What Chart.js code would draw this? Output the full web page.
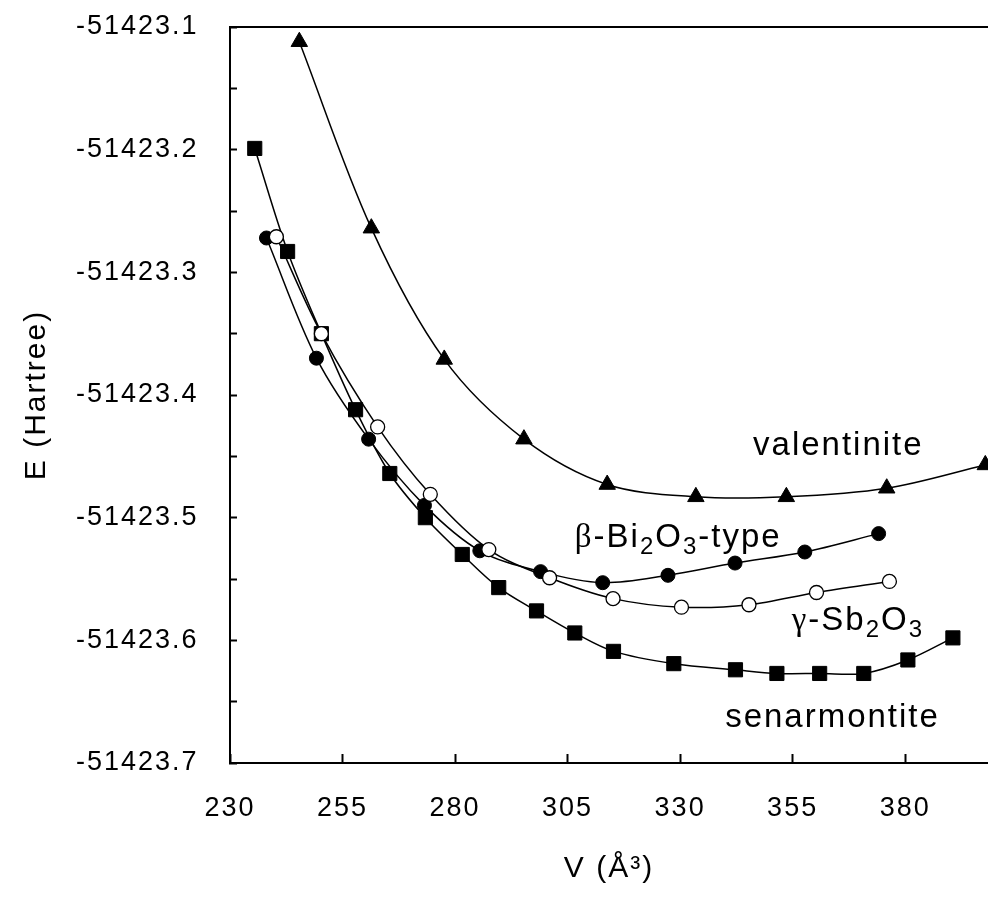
<!DOCTYPE html>
<html><head><meta charset="utf-8">
<script src="https://cdn.jsdelivr.net/npm/chart.js@4.4.1/dist/chart.umd.min.js"></script>
<style>html,body{margin:0;padding:0;background:#fff;}canvas{display:block;}</style>
</head><body>
<canvas id="c" width="988" height="899"></canvas>
<script>
// ---- data ----
const senarmontiteV = [235.5, 242.8, 250.3, 257.9, 265.5, 273.4, 281.6, 289.7, 298.1, 306.6, 315.2, 328.6, 342.3, 351.5, 361.0, 370.8, 380.6, 390.6];
const senarmontiteE = [-51423.199, -51423.283, -51423.350, -51423.412, -51423.464, -51423.500, -51423.530, -51423.557, -51423.576, -51423.594, -51423.609, -51423.619, -51423.624, -51423.627, -51423.627, -51423.627, -51423.616, -51423.598];
const valentiniteV = [245.4, 261.4, 277.6, 295.3, 313.8, 333.5, 353.6, 375.9, 397.8];
const valentiniteE = [-51423.112, -51423.264, -51423.371, -51423.436, -51423.473, -51423.483, -51423.483, -51423.476, -51423.457];
const betaV = [238.1, 249.2, 260.8, 273.2, 285.5, 299.0, 312.8, 327.3, 342.2, 357.7, 374.1];
const betaE = [-51423.272, -51423.370, -51423.436, -51423.490, -51423.527, -51423.544, -51423.553, -51423.547, -51423.537, -51423.528, -51423.513];
const gammaV = [240.3, 250.3, 262.8, 274.5, 287.5, 301.0, 315.1, 330.3, 345.3, 360.3, 376.5];
const gammaE = [-51423.271, -51423.350, -51423.426, -51423.481, -51423.526, -51423.549, -51423.566, -51423.573, -51423.571, -51423.561, -51423.552];

const xTickValues = [230, 255, 280, 305, 330, 355, 380];
const xTickLabels = ['230', '255', '280', '305', '330', '355', '380'];
const yTickValues = [-51423.7, -51423.65, -51423.6, -51423.55, -51423.5, -51423.45, -51423.4, -51423.35, -51423.3, -51423.25, -51423.2, -51423.15, -51423.1];
const yTickLabels = ['-51423.7', '', '-51423.6', '', '-51423.5', '', '-51423.4', '', '-51423.3', '', '-51423.2', '', '-51423.1'];
const xAxisTitle = 'V (Å³)';
const yAxisTitle = 'E (Hartree)';

// series labels placed in the plot (value coordinates of text start / baseline)
const seriesLabels = [
  {parts: [['valentinite', 'n']], x: 346.2, y: -51423.449},
  {parts: [['β', 'g'], ['-Bi', 'n'], ['2', 's'], ['O', 'n'], ['3', 's'], ['-type', 'n']], x: 306.6, y: -51423.524},
  {parts: [['γ', 'g'], ['-Sb', 'n'], ['2', 's'], ['O', 'n'], ['3', 's']], x: 354.8, y: -51423.5916},
  {parts: [['senarmontite', 'n']], x: 340.0, y: -51423.6707}
];

// ---- styling / layout ----
const FONT = '"Liberation Sans", Arial, sans-serif';
const LS = '2px';
const toXY = (xs, ys) => xs.map((v, i) => ({x: v, y: ys[i]}));
const noPad = s => { s.paddingTop = 0; s.paddingBottom = 0; s.paddingLeft = 0; s.paddingRight = 0; };

const lsPlugin = {
  id: 'letterSpacing',
  beforeUpdate(chart) { chart.ctx.letterSpacing = LS; },
  beforeDraw(chart) { chart.ctx.letterSpacing = LS; }
};

const labelPlugin = {
  id: 'seriesLabels',
  afterDatasetsDraw(chart) {
    const ctx = chart.ctx;
    const xs = chart.scales.x, ys = chart.scales.y;
    const size = 33;
    ctx.save();
    ctx.letterSpacing = LS;
    ctx.fillStyle = '#000';
    ctx.textAlign = 'left';
    ctx.textBaseline = 'alphabetic';
    seriesLabels.forEach(lb => {
      let cx = xs.getPixelForValue(lb.x);
      const by = ys.getPixelForValue(lb.y);
      lb.parts.forEach(([txt, kind]) => {
        let dy = 0;
        if (kind === 's') { ctx.font = Math.round(size * 0.72) + 'px ' + FONT; dy = size * 0.2; }
        else if (kind === 'g') { ctx.font = size + 'px "Liberation Serif", serif'; }
        else { ctx.font = size + 'px ' + FONT; }
        ctx.fillText(txt, cx, by + dy);
        cx += ctx.measureText(txt).width;
      });
    });
    ctx.restore();
  }
};

const common = {showLine: true, tension: 0.33, borderColor: '#000', borderWidth: 1.5, pointBorderColor: '#000', pointHoverRadius: 0};

new Chart(document.getElementById('c'), {
  type: 'scatter',
  data: {
    datasets: [
      Object.assign({label: 'γ-Sb2O3', data: toXY(gammaV, gammaE), pointStyle: 'circle', pointRadius: 7, pointBackgroundColor: '#fff', pointBorderWidth: 1.3, order: 0}, common),
      Object.assign({label: 'senarmontite', data: toXY(senarmontiteV, senarmontiteE), pointStyle: 'rect', pointRadius: 10, pointBackgroundColor: '#000', pointBorderWidth: 1, order: 1}, common),
      Object.assign({label: 'β-Bi2O3-type', data: toXY(betaV, betaE), pointStyle: 'circle', pointRadius: 7, pointBackgroundColor: '#000', pointBorderWidth: 1, order: 2}, common),
      Object.assign({label: 'valentinite', data: toXY(valentiniteV, valentiniteE), pointStyle: 'triangle', pointRadius: 9.5, pointBackgroundColor: '#000', pointBorderWidth: 1, order: 3}, common)
    ]
  },
  options: {
    responsive: false,
    animation: false,
    events: [],
    layout: {autoPadding: false, padding: {top: 27, right: 0, bottom: 0, left: 0}},
    plugins: {legend: {display: false}, tooltip: {enabled: false}},
    scales: {
      x: {
        type: 'linear', position: 'bottom', min: 230, max: 398.4,
        afterBuildTicks: s => { s.ticks = xTickValues.map(v => ({value: v})); },
        afterFit: s => { s.height = 136; noPad(s); },
        ticks: {callback: (v, i) => xTickLabels[i], color: '#000', font: {family: FONT, size: 27}, padding: 38, maxRotation: 0, autoSkip: false},
        grid: {display: true, drawOnChartArea: false, drawTicks: true, tickLength: -9, tickWidth: 2, tickColor: '#000'},
        border: {display: true, color: '#000', width: 2},
        title: {display: true, text: xAxisTitle, color: '#000', font: {family: FONT, size: 30}, padding: {top: 0, bottom: 12}}
      },
      x2: {
        type: 'linear', position: 'top', min: 230, max: 398.4,
        afterFit: s => { s.height = 0; noPad(s); },
        ticks: {display: false},
        grid: {display: false, drawTicks: false},
        border: {display: true, color: '#000', width: 2}
      },
      y: {
        type: 'linear', position: 'left', min: -51423.7, max: -51423.1,
        afterBuildTicks: s => { s.ticks = yTickValues.map(v => ({value: v})); },
        afterFit: s => { s.width = 230; noPad(s); },
        ticks: {callback: (v, i) => yTickLabels[i], color: '#000', font: {family: FONT, size: 27}, padding: 38.5, autoSkip: false},
        grid: {display: true, drawOnChartArea: false, drawTicks: true, tickLength: -7, tickWidth: 2, tickColor: '#000'},
        border: {display: true, color: '#000', width: 2},
        title: {display: true, text: yAxisTitle, color: '#000', font: {family: FONT, size: 30}, padding: {top: 19, bottom: 0}}
      }
    }
  },
  plugins: [lsPlugin, labelPlugin]
});
</script>
</body></html>
